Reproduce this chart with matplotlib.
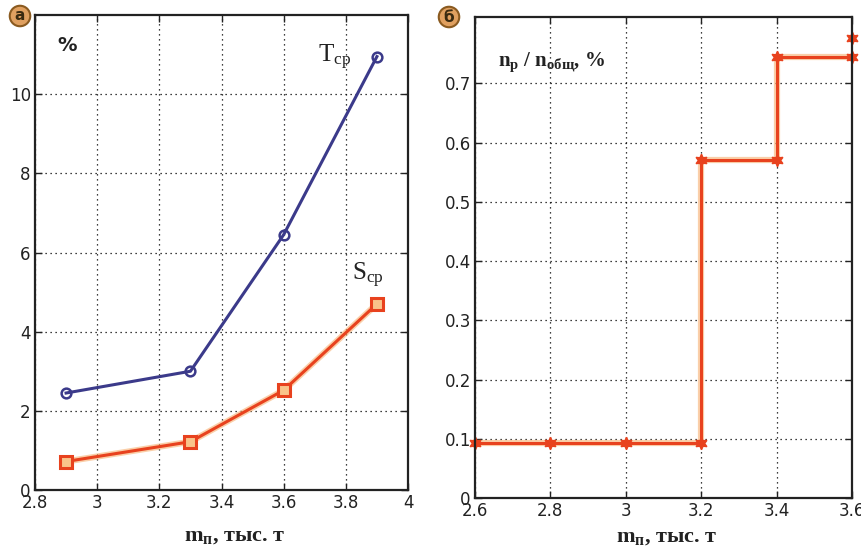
import matplotlib
matplotlib.use("Agg")
import matplotlib.pyplot as plt
import matplotlib.patheffects as pe

plt.rcParams['font.family'] = ['DejaVu Sans']
plt.rcParams['mathtext.fontset'] = 'custom'
plt.rcParams['mathtext.rm'] = 'Liberation Serif'
plt.rcParams['mathtext.it'] = 'Liberation Serif:italic'
plt.rcParams['mathtext.bf'] = 'Liberation Serif:bold'

# ---- data: panel (а)
m_left = [2.9, 3.3, 3.6, 3.9]
T_cp = [2.45, 3.0, 6.45, 10.95]
S_cp = [0.72, 1.22, 2.52, 4.7]
left_xticks = [2.8, 3.0, 3.2, 3.4, 3.6, 3.8, 4.0]
left_xlabels = ['2.8', '3', '3.2', '3.4', '3.6', '3.8', '4']
left_yticks = [0, 2, 4, 6, 8, 10]
left_ylabels = ['0', '2', '4', '6', '8', '10']

# ---- data: panel (б)
m_right = [2.6, 2.8, 3.0, 3.2, 3.2, 3.4, 3.4, 3.6]
ratio = [0.093, 0.093, 0.093, 0.093, 0.57, 0.57, 0.745, 0.745]
m_extra = [3.6]
ratio_extra = [0.777]
right_xticks = [2.6, 2.8, 3.0, 3.2, 3.4, 3.6]
right_xlabels = ['2.6', '2.8', '3', '3.2', '3.4', '3.6']
right_yticks = [0, 0.1, 0.2, 0.3, 0.4, 0.5, 0.6, 0.7]
right_ylabels = ['0', '0.1', '0.2', '0.3', '0.4', '0.5', '0.6', '0.7']

W, H = 861, 551
fig = plt.figure(figsize=(W / 100, H / 100), dpi=100)
fig.patch.set_facecolor('white')

def px_axes(x0, y0, x1, y1):
    return fig.add_axes([x0 / W, 1 - y1 / H, (x1 - x0) / W, (y1 - y0) / H])

ax1 = px_axes(35, 15, 408, 490)
ax2 = px_axes(475, 17, 852, 498)

blue = '#3b3a8a'
red = '#e8421e'
glow = [pe.Stroke(linewidth=4.5, foreground='#f7b070', alpha=0.6), pe.Normal()]

def style(ax):
    ax.grid(True, color='black', linestyle=(0, (1, 3)), linewidth=0.9)
    ax.tick_params(direction='in', length=5, width=1, labelsize=12,
                   top=True, right=True, colors='#222222', pad=3)
    for s in ax.spines.values():
        s.set_linewidth(1.6)
        s.set_color('#222222')
    ax.set_axisbelow(True)

# panel a
ax1.plot(m_left, T_cp, color=blue, lw=2.2, marker='o', ms=7, mfc='none',
         mec=blue, mew=1.8)
ax1.plot(m_left, S_cp, color=red, lw=2.2, path_effects=glow)
ax1.plot(m_left, S_cp, ls='none', marker='s', ms=9, mfc='#f9c48a',
         mec=red, mew=2.2)
ax1.set_xlim(2.8, 4.0)
ax1.set_ylim(0, 12)
ax1.set_xticks(left_xticks, left_xlabels)
ax1.set_yticks(left_yticks, left_ylabels)
style(ax1)
ax1.text(0.06, 0.955, '%', transform=ax1.transAxes, fontsize=14,
         fontweight='bold', va='top', ha='left', color='#222222')
ax1.text(3.71, 10.8, r'T$_{\mathregular{ср}}$', fontsize=18,
         fontfamily='Liberation Serif', color='#222222', va='baseline')
ax1.text(3.82, 5.3, r'S$_{\mathregular{ср}}$', fontsize=18,
         fontfamily='Liberation Serif', color='#222222', va='baseline')
ax1.set_xlabel(r'm$_{\mathregular{п}}$, тыс. т', fontsize=16,
               fontfamily='Liberation Serif', fontweight='bold',
               color='#222222')
ax1.xaxis.set_label_coords(0.536, -0.075)

# panel b
ax2.plot(m_right, ratio, color=red, lw=2.2, path_effects=glow, clip_on=False)
ax2.plot(m_right, ratio, ls='none', color=red, marker=(6, 1, 0), ms=9,
         mfc=red, mec=red, clip_on=False)
ax2.plot(m_extra, ratio_extra, ls='none', color=red, marker=(6, 1, 0), ms=9,
         mfc=red, mec=red, clip_on=False)
ax2.set_xlim(2.6, 3.6)
ax2.set_ylim(0, 0.812)
ax2.set_xticks(right_xticks, right_xlabels)
ax2.set_yticks(right_yticks, right_ylabels)
style(ax2)
ax2.text(0.06, 0.93, r'n$_{\mathregular{р}}$ / n$_{\mathregular{общ}}$, %',
         transform=ax2.transAxes, fontsize=15, fontfamily='Liberation Serif',
         fontweight='bold', va='top', ha='left', color='#222222')
ax2.set_xlabel(r'm$_{\mathregular{п}}$, тыс. т', fontsize=16,
               fontfamily='Liberation Serif', fontweight='bold',
               color='#222222')
ax2.xaxis.set_label_coords(0.509, -0.06)

# circled panel letters
for (x, y, t) in [(20, 16, 'а'), (449, 17, 'б')]:
    fig.text(x / W, 1 - y / H, t, ha='center', va='center', fontsize=11,
             fontweight='bold', color='#3a2a10',
             bbox=dict(boxstyle='circle,pad=0.18', fc='#e0a060',
                       ec='#8a5a20', lw=1.5))

fig.savefig('out.png', dpi=100, facecolor='white')
